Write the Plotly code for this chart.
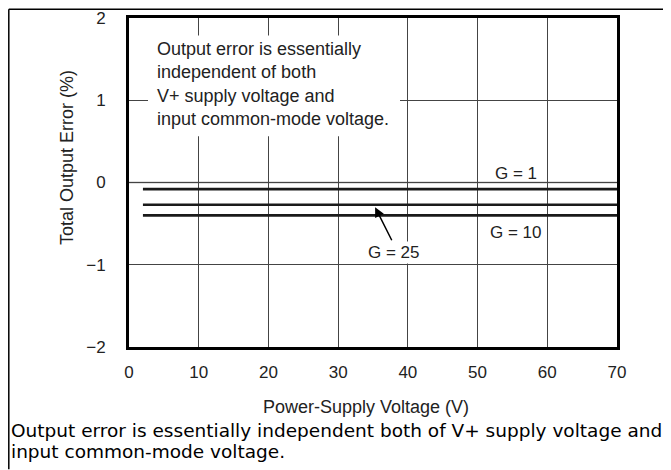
import plotly.graph_objects as go

# ---- data ----
supply_voltage = [2, 70]            # V
error_g1 = [-0.08, -0.08]           # %
error_g25 = [-0.27, -0.27]          # %
error_g10 = [-0.40, -0.40]          # %
x_ticks = [0, 10, 20, 30, 40, 50, 60, 70]
y_ticks = [-2, -1, 0, 1, 2]

FONT = "Liberation Sans, Arial, Helvetica, sans-serif"
CAP_FONT = "DejaVu Sans, Verdana, sans-serif"
OFF = 8  # page body margin
W, H = 671 - OFF, 470 - OFF
# plot area in screen pixels: left 129, right 617, top 17.5, bottom 347.5
L, T = 129 - OFF, 17.5 - OFF
R = W - (617 - OFF)
B = H - (347.5 - OFF)
PW, PH = W - L - R, H - T - B


def px(xs):
    """screen x pixel -> paper"""
    return (xs - OFF - L) / PW


def py(ys):
    """screen y pixel -> paper"""
    return (H - B - (ys - OFF)) / PH


fig = go.Figure()
for vals in (error_g1, error_g25, error_g10):
    fig.add_trace(go.Scatter(x=supply_voltage, y=vals, mode="lines",
                             line=dict(color="#1a1a1a", width=2.6),
                             showlegend=False, hoverinfo="skip"))

axis_common = dict(showline=True, linecolor="black", linewidth=3, mirror=True,
                   ticks="", showgrid=True, gridcolor="#444", gridwidth=1,
                   zeroline=False, tickfont=dict(family=FONT, size=17, color="#222"))

fig.update_xaxes(range=[0, 70], tickvals=x_ticks, ticklabelstandoff=8, **axis_common)
fig.update_yaxes(range=[-2, 2], tickvals=y_ticks, ticklabelstandoff=17, **axis_common)

shapes = [
    dict(type="line", xref="x", yref="y", x0=0, x1=70, y0=0, y1=0,
         line=dict(color="#888", width=1.5), layer="below"),
    dict(type="rect", xref="paper", yref="paper", x0=px(148), x1=px(400),
         y0=py(136), y1=py(35), fillcolor="white", line=dict(width=0), layer="above"),
    dict(type="line", xref="paper", yref="paper", x0=px(8.8), x1=px(671),
         y0=py(8.8), y1=py(8.8), line=dict(color="black", width=1.5)),
    dict(type="line", xref="paper", yref="paper", x0=px(8.8), x1=px(8.8),
         y0=py(8.8), y1=py(470), line=dict(color="black", width=1.5)),
]

ann = [
    dict(text="Output error is essentially<br>independent of both<br>V+ supply voltage and<br>input common-mode voltage.",
         xref="paper", yref="paper", x=px(155), y=py(84), xanchor="left", yanchor="middle",
         align="left", showarrow=False, font=dict(family=FONT, size=18, color="#222")),
    dict(text="G = 1", xref="x", yref="y", x=55.5, y=0.11, showarrow=False,
         font=dict(family=FONT, size=17, color="#222")),
    dict(text="G = 10", xref="x", yref="y", x=55.5, y=-0.61, showarrow=False,
         font=dict(family=FONT, size=17, color="#222")),
    dict(text="", xref="x", yref="y", x=35.3, y=-0.30, axref="x", ayref="y",
         ax=37.8, ay=-0.72, showarrow=True, arrowhead=2, arrowsize=1.3,
         arrowwidth=1.5, arrowcolor="black"),
    dict(text="G = 25", xref="x", yref="y", x=38.0, y=-0.85, showarrow=False,
         bgcolor="white", borderpad=1, font=dict(family=FONT, size=17, color="#222")),
    dict(text="Power-Supply Voltage (V)", xref="paper", yref="paper", x=px(366), y=py(408),
         xanchor="center", yanchor="middle", showarrow=False,
         font=dict(family=FONT, size=18, color="#222")),
    dict(text="Total Output Error (%)", xref="paper", yref="paper", x=px(67), y=py(158),
         xanchor="center", yanchor="middle", textangle=-90, showarrow=False,
         font=dict(family=FONT, size=18, color="#222")),
    dict(text="Output error is essentially independent both of V+ supply voltage and",
         xref="paper", yref="paper", x=px(9), y=py(431), xanchor="left", yanchor="middle",
         align="left", showarrow=False, font=dict(family=CAP_FONT, size=18.5, color="black")),
    dict(text="input common-mode voltage.",
         xref="paper", yref="paper", x=px(9), y=py(452), xanchor="left", yanchor="middle",
         align="left", showarrow=False, font=dict(family=CAP_FONT, size=18.5, color="black")),
]

fig.update_layout(width=W, height=H, margin=dict(l=L, r=R, t=T, b=B, autoexpand=False),
                  paper_bgcolor="white", plot_bgcolor="white",
                  shapes=shapes, annotations=ann, showlegend=False)

fig.write_html("out.html")
